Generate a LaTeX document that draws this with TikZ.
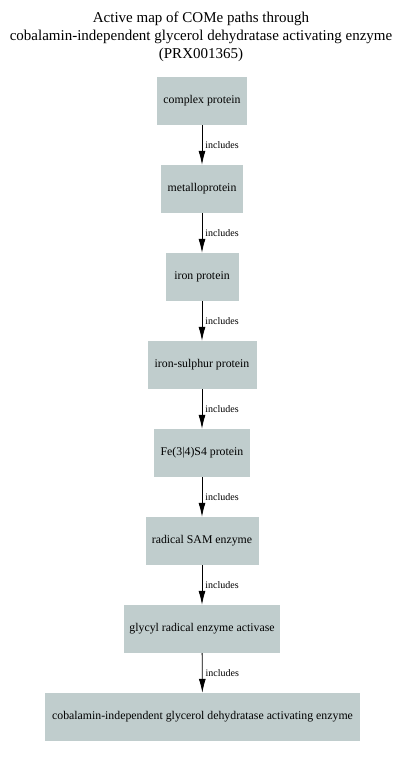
\documentclass[tikz,border=0pt]{standalone}
\usepackage{fontspec}
\setmainfont{Liberation Serif}
\usetikzlibrary{arrows.meta}
\definecolor{boxfill}{RGB}{192,205,205}
\begin{document}
\begin{tikzpicture}[x=1pt,y=-1pt,
  box/.style={fill=boxfill,draw=none,minimum height=48pt,inner xsep=4pt,font=\fontsize{11.8}{14}\selectfont},
  conn/.style={draw=black,line width=0.8pt,-{Latex[length=14pt,width=7pt]}},
  lab/.style={font=\fontsize{10}{12}\selectfont,anchor=west,inner sep=1pt,xshift=2pt}]
\useasboundingbox (0,0) rectangle (401,758);
\node[font=\fontsize{15}{18}\selectfont,align=center] (title) at (201,37) {Active map of COMe paths through\\cobalamin-independent glycerol dehydratase activating enzyme\\(PRX001365)};
\node[box,minimum width=90pt] (n1) at (202,101) {complex protein};
\node[box,minimum width=82pt] (n2) at (202,189) {metalloprotein};
\node[box,minimum width=73pt] (n3) at (202,277) {iron protein};
\node[box,minimum width=109pt] (n4) at (202,365) {iron-sulphur protein};
\node[box,minimum width=96pt] (n5) at (202,453) {Fe(3|4)S4 protein};
\node[box,minimum width=113pt] (n6) at (202,541) {radical SAM enzyme};
\node[box,minimum width=156pt] (n7) at (202,629) {glycyl radical enzyme activase};
\node[box,minimum width=315pt] (n8) at (202.5,717) {cobalamin-independent glycerol dehydratase activating enzyme};
\foreach \a/\b in {n1/n2,n2/n3,n3/n4,n4/n5,n5/n6,n6/n7,n7/n8}{
  \draw[conn] (\a) -- node[lab,pos=0.5] {includes} (\b);
}
\end{tikzpicture}
\end{document}
